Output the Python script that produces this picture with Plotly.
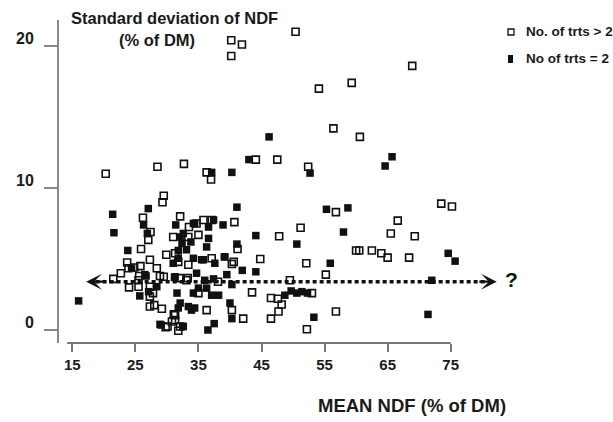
import plotly.graph_objects as go

# ---------------- data ----------------
open_x = [20.3, 28.5, 32.7, 36.3, 37.0, 44.1, 47.5, 52.4, 40.2, 41.9, 40.2, 50.4, 68.9, 54.1, 59.3,
          56.4, 60.6, 56.8, 66.6, 65.5, 69.3, 73.5, 75.2, 60.0, 60.5, 62.5, 64.0, 65.0, 68.4, 55.2,
          56.8, 40.7, 51.2, 47.8, 44.8, 52.1, 49.5, 46.5, 47.6, 53.0, 48.2, 47.7, 46.5, 43.5, 42.1,
          52.2, 41.2, 40.3, 37.1, 40.3,
          29.5, 29.3, 32.1, 26.2, 27.4, 27.05, 33.5, 33.4, 31.0, 25.9, 29.9, 31.3, 33.4, 23.7, 22.7,
          24.8, 25.8, 27.3, 28.4, 28.9, 25.6, 24.0, 21.5, 27.3, 27.3, 29.5, 32.0, 33.3, 27.3, 28.0,
          29.2, 31.1, 31.3, 30.1, 31.8, 23.9, 25.5, 25.5, 27.8, 29.8, 35.8, 37.1, 34.7, 35.0, 31.8,
          40.6, 33.1, 38.1, 35.0, 36.3, 31.3, 30.8, 32.1]
open_y = [11.0, 11.5, 11.7, 11.1, 10.6, 12.0, 12.0, 11.5, 20.4, 20.1, 19.3, 21.0, 18.6, 17.0, 17.4,
          14.2, 13.6, 8.3, 7.7, 6.8, 6.6, 8.9, 8.7, 5.6, 5.6, 5.6, 5.4, 5.1, 5.1, 3.9,
          1.3, 7.6, 7.2, 6.6, 5.0, 4.7, 3.5, 2.25, 2.2, 2.6, 1.8, 1.3, 0.8, 2.65, 0.8,
          0.05, 5.7, 4.65, 5.05, 1.4,
          9.45, 9.0, 8.0, 7.9, 6.9, 6.35, 7.25, 6.55, 6.55, 5.7, 5.3, 5.4, 4.6, 4.75, 4.0,
          4.4, 4.5, 4.95, 4.35, 3.8, 3.8, 3.0, 3.6, 3.05, 2.35, 3.75, 3.65, 3.65, 1.65, 1.75,
          1.5, 1.1, 0.7, 0.25, -0.05, 4.35, 3.5, 3.05, 2.6, 0.2, 7.75, 7.75, 7.5, 6.7, 4.8,
          4.8, 3.5, 3.4, 2.6, 1.4, 1.05, 0.6, 0.25]

filled_x = [37.1, 40.3, 43.0, 46.2, 52.7, 65.7, 64.6, 55.3, 58.7, 58.0, 74.6, 75.7, 55.9, 72.0, 71.4,
            41.1, 44.1, 50.6, 41.95, 44.1, 48.7, 49.7, 50.6, 51.4, 52.3, 53.3, 41.1, 39.2, 35.8, 34.2,
            37.6, 39.5, 40.3, 40.0, 40.3, 36.5, 37.5, 27.05, 21.4, 21.6, 31.4, 26.3, 26.9, 34.2, 32.1,
            33.8, 33.1, 23.8, 31.8, 31.0, 24.4, 26.7, 28.4, 25.7, 31.2, 31.6, 32.1, 33.9, 28.9, 32.5,
            16.0, 26.5, 27.1, 29.1, 37.4, 36.6, 38.9, 34.4, 32.6, 36.6, 36.3, 32.4, 31.8, 39.1, 35.5,
            34.7, 36.0, 37.4, 31.3, 35.0, 36.3, 34.2, 37.1, 38.2, 31.8, 33.4, 34.4, 32.6]
filled_y = [11.1, 11.1, 12.0, 13.6, 11.05, 12.2, 11.55, 8.5, 8.6, 6.9, 5.4, 4.85, 4.7, 3.5, 1.1,
            8.65, 6.65, 6.05, 4.2, 4.1, 2.45, 2.75, 2.6, 2.7, 2.6, 0.9, 6.05, 5.15, 4.95, 5.05,
            4.7, 3.9, 3.2, 1.9, 0.8, 0.0, 0.45, 8.55, 8.15, 6.85, 7.4, 7.4, 6.8, 7.5, 6.55,
            6.2, 5.65, 5.6, 5.05, 4.7, 4.35, 3.8, 3.05, 2.4, 3.7, 2.6, 1.9, 1.4, 0.4, 0.25,
            2.05, 3.9, 2.7, 0.35, 7.75, 7.25, 7.4, 7.5, 6.8, 6.45, 5.85, 6.1, 5.6, 5.15, 4.95,
            4.0, 3.5, 3.6, 3.75, 2.95, 2.95, 2.6, 2.45, 2.45, 1.55, 1.65, 1.55, 0.25]

x_ticks = [15, 25, 35, 45, 55, 65, 75]
y_ticks = [0, 10, 20]
mean_sd = 3.4          # dotted reference line level
arrow_x = [17.2, 82.3]  # arrow tips

legend_labels = ["No. of trts > 2", "No of trts = 2"]
title_lines = ["Standard deviation of NDF", "(% of DM)"]
x_title = "MEAN NDF (% of DM)"

# ---------------- layout geometry (pixels) ----------------
W, H = 613, 422
L, R, T, B = 59, 540, 20, 343
XR = [12.89, 89.16]
YR = [-0.915, 21.83]


def xp(px):
    return (px - L) / (R - L)


def yp(py):
    return (B - py) / (B - T)


FONT = "Liberation Sans, Arial, sans-serif"
INK = "#111111"
TXT = "#1a1a1a"

fig = go.Figure()
fig.add_trace(go.Scatter(
    x=open_x, y=open_y, mode="markers", name=legend_labels[0],
    marker=dict(symbol="square-open", size=7, color=INK, line=dict(width=1.6, color=INK)),
    showlegend=False, cliponaxis=False))
fig.add_trace(go.Scatter(
    x=filled_x, y=filled_y, mode="markers", name=legend_labels[1],
    marker=dict(symbol="square", size=7.5, color=INK, line=dict(width=0)),
    showlegend=False, cliponaxis=False))

shapes = []
# x axis line (starts slightly right of the y axis)
shapes.append(dict(type="line", xref="x", yref="paper", x0=14.2, x1=x_ticks[-1], y0=0, y1=0,
                   line=dict(color="#777777", width=2)))
# dotted reference line
shapes.append(dict(type="line", xref="x", yref="y", x0=arrow_x[0] + 1.5, x1=arrow_x[1] - 1.5,
                   y0=mean_sd, y1=mean_sd, line=dict(color=INK, width=3.5, dash="4px,3px"),
                   layer="below"))
# legend markers
shapes.append(dict(type="rect", xref="paper", yref="paper",
                   x0=xp(508), x1=xp(514), y0=yp(35), y1=yp(29),
                   line=dict(color=INK, width=1.3), fillcolor="white"))
shapes.append(dict(type="rect", xref="paper", yref="paper",
                   x0=xp(508), x1=xp(513), y0=yp(63), y1=yp(55),
                   line=dict(color=INK, width=0), fillcolor=INK))

annotations = []
for tip, tail in [(arrow_x[0], arrow_x[0] + 3), (arrow_x[1], arrow_x[1] - 3)]:
    annotations.append(dict(x=tip, y=mean_sd, ax=tail, ay=mean_sd, xref="x", yref="y",
                            axref="x", ayref="y", text="", showarrow=True, arrowhead=3,
                            arrowsize=1.2, arrowwidth=2.2, arrowcolor=INK, standoff=0))
annotations.append(dict(x=xp(511), y=yp(279), xref="paper", yref="paper", text="<b>?</b>",
                        xanchor="center", yanchor="middle",
                        showarrow=False, font=dict(family=FONT, size=21, color=INK)))
annotations.append(dict(x=xp(174), y=yp(18), xref="paper", yref="paper",
                        text="<b>" + title_lines[0] + "</b>", xanchor="center", yanchor="middle",
                        showarrow=False, font=dict(family=FONT, size=16.5, color=TXT)))
annotations.append(dict(x=xp(157), y=yp(40), xref="paper", yref="paper",
                        text="<b>" + title_lines[1] + "</b>", xanchor="center", yanchor="middle",
                        showarrow=False, font=dict(family=FONT, size=16.5, color=TXT)))
annotations.append(dict(x=xp(412), y=yp(405), xref="paper", yref="paper", text="<b>" + x_title + "</b>",
                        xanchor="center", yanchor="middle",
                        showarrow=False, font=dict(family=FONT, size=18.5, color=TXT)))
annotations.append(dict(x=xp(524), y=yp(32), xref="paper", yref="paper", xanchor="left",
                        yanchor="middle",
                        text="<b>" + legend_labels[0] + "</b>", showarrow=False,
                        font=dict(family=FONT, size=13.5, color=TXT)))
annotations.append(dict(x=xp(524), y=yp(59), xref="paper", yref="paper", xanchor="left",
                        yanchor="middle",
                        text="<b>" + legend_labels[1] + "</b>", showarrow=False,
                        font=dict(family=FONT, size=13.5, color=TXT)))

fig.update_layout(
    width=W, height=H,
    margin=dict(l=L, r=W - R, t=T, b=H - B, pad=0),
    paper_bgcolor="white", plot_bgcolor="white",
    shapes=shapes, annotations=annotations,
    xaxis=dict(range=XR, showgrid=False, zeroline=False, showline=False,
               tickmode="array", tickvals=x_ticks, ticktext=[str(v) for v in x_ticks],
               ticks="outside", ticklen=8, tickwidth=2, tickcolor="#777777",
               ticklabelstandoff=0,
               tickfont=dict(family=FONT, size=15, color=TXT, weight="bold")),
    yaxis=dict(range=YR, showgrid=False, zeroline=False, showline=True,
               linecolor="#888888", linewidth=2,
               tickmode="array", tickvals=y_ticks, ticktext=[str(v) for v in y_ticks],
               ticks="outside", ticklen=13, tickwidth=2, tickcolor="#888888",
               ticklabelshift=-8, ticklabelstandoff=7,
               tickfont=dict(family=FONT, size=16, color=TXT, weight="bold")),
    showlegend=False,
)

fig.write_html("out.html")
